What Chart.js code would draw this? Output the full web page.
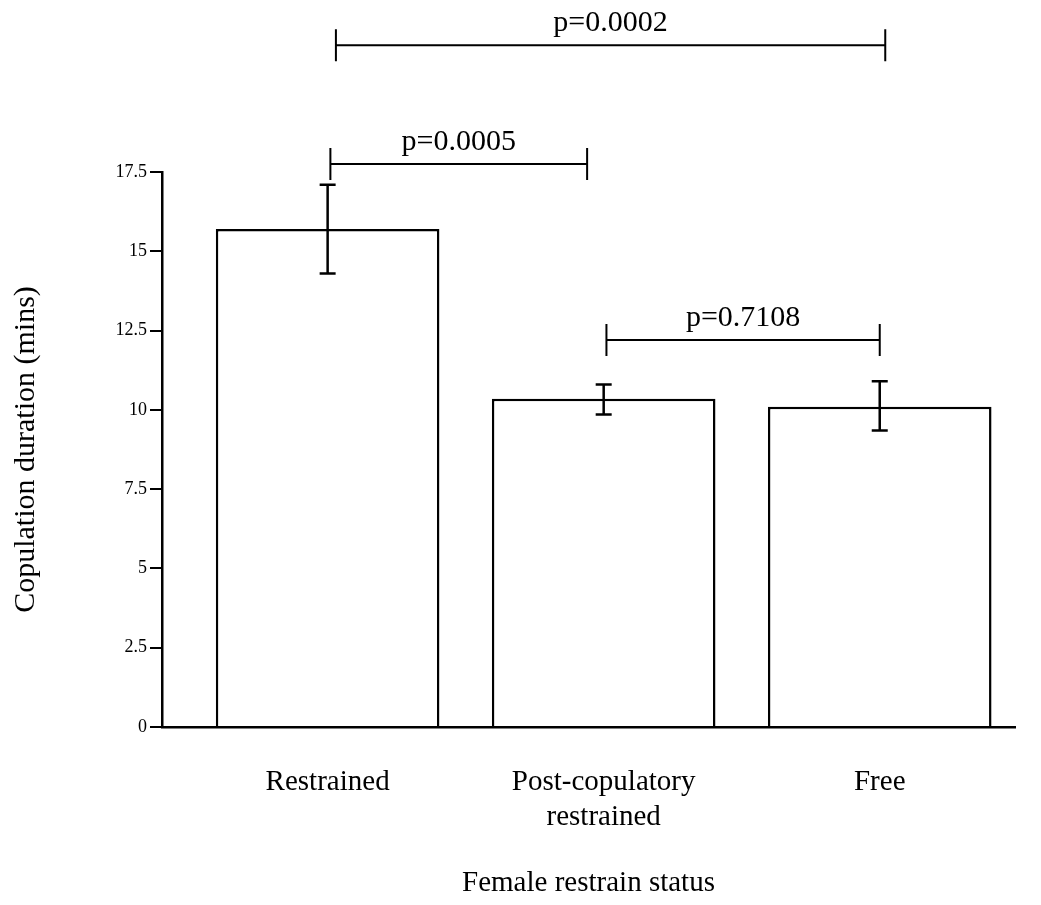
<!DOCTYPE html>
<html>
<head>
<meta charset="utf-8">
<title>Copulation duration</title>
<script src="https://cdn.jsdelivr.net/npm/chart.js@4.4.0/dist/chart.umd.min.js"></script>
<style>
  body { margin: 0; background: #fff; }
  #chart { display: block; }
</style>
</head>
<body>
<canvas id="chart" width="1041" height="905"></canvas>
<script>
// Female restrain status groups
var categories = [['Restrained'], ['Post-copulatory', 'restrained'], ['Free']];
// Mean copulation duration (mins) and error bar ends
var means = [15.7, 10.35, 10.1];
var errUpper = [17.1, 10.8, 10.9];
var errLower = [14.3, 9.85, 9.35];
var yTicks = [0, 2.5, 5, 7.5, 10, 12.5, 15, 17.5];

// Pairwise comparisons drawn as brackets above the bars
var bracketLabels = ['p=0.0002', 'p=0.0005', 'p=0.7108'];
var bracketFrom = [0.03, 0.01, 1.01];
var bracketTo = [2.02, 0.94, 2.0];
var bracketLevel = [21.5, 17.75, 12.2];

var serif = '"Liberation Serif", "Times New Roman", serif';

var errorBars = {
    id: 'errorBars',
    afterDatasetsDraw: function(chart) {
        var ctx = chart.ctx;
        var x = chart.scales.x, y = chart.scales.y;
        ctx.save();
        ctx.strokeStyle = '#000';
        ctx.lineWidth = 2.5;
        for (var i = 0; i < means.length; i++) {
            var px = x.getPixelForValue(i);
            var top = y.getPixelForValue(errUpper[i]);
            var bot = y.getPixelForValue(errLower[i]);
            ctx.beginPath();
            ctx.moveTo(px, top); ctx.lineTo(px, bot);
            ctx.moveTo(px - 8, top); ctx.lineTo(px + 8, top);
            ctx.moveTo(px - 8, bot); ctx.lineTo(px + 8, bot);
            ctx.stroke();
        }
        ctx.restore();
    }
};

var brackets = {
    id: 'brackets',
    afterDraw: function(chart) {
        var ctx = chart.ctx;
        var x = chart.scales.x, y = chart.scales.y;
        ctx.save();
        ctx.strokeStyle = '#000';
        ctx.fillStyle = '#000';
        ctx.lineWidth = 2;
        ctx.font = '30px ' + serif;
        ctx.textAlign = 'center';
        ctx.textBaseline = 'alphabetic';
        for (var i = 0; i < bracketLabels.length; i++) {
            var x1 = x.getPixelForValue(bracketFrom[i]);
            var x2 = x.getPixelForValue(bracketTo[i]);
            var py = y.getPixelForValue(bracketLevel[i]);
            ctx.beginPath();
            ctx.moveTo(x1, py); ctx.lineTo(x2, py);
            ctx.moveTo(x1, py - 16); ctx.lineTo(x1, py + 16);
            ctx.moveTo(x2, py - 16); ctx.lineTo(x2, py + 16);
            ctx.stroke();
            ctx.fillText(bracketLabels[i], (x1 + x2) / 2, py - 14);
        }
        ctx.restore();
    }
};

var chart = new Chart(document.getElementById('chart'), {
    type: 'bar',
    data: {
        datasets: [{
            data: means.map(function(m, i) { return { x: i, y: m }; }),
            backgroundColor: '#fff',
            borderColor: '#000',
            borderWidth: 2.5,
            borderSkipped: 'bottom',
            barPercentage: 0.81,
            categoryPercentage: 1
        }]
    },
    options: {
        responsive: false,
        animation: false,
        layout: { padding: { top: 172, left: 6, right: 26, bottom: 0 } },
        plugins: { legend: { display: false }, tooltip: { enabled: false } },
        scales: {
            x: {
                type: 'linear',
                offset: false,
                min: -0.6,
                max: 2.49,
                afterBuildTicks: function(scale) {
                    scale.ticks = categories.map(function(c, i) { return { value: i }; });
                },
                afterFit: function(scale) { scale.height = 905 - 727; },
                grid: { display: false, offset: false },
                border: { display: true, color: '#000', width: 2.5 },
                ticks: {
                    color: '#000',
                    padding: 30,
                    maxRotation: 0,
                    autoSkip: false,
                    font: { family: serif, size: 29 },
                    callback: function(v) { return categories[v]; }
                },
                title: {
                    display: true,
                    text: 'Female restrain status',
                    color: '#000',
                    font: { family: serif, size: 29 },
                    padding: { top: 4, bottom: 4 }
                }
            },
            y: {
                min: 0,
                max: 17.5,
                afterBuildTicks: function(scale) {
                    scale.ticks = yTicks.map(function(v) { return { value: v }; });
                },
                afterFit: function(scale) { scale.width = 162 - 6; },
                grid: {
                    display: true,
                    drawOnChartArea: false,
                    drawTicks: true,
                    tickLength: 12,
                    color: '#000',
                    lineWidth: 2
                },
                border: { display: true, color: '#000', width: 2.5 },
                ticks: {
                    color: '#000',
                    padding: 3,
                    font: { family: serif, size: 18 },
                    callback: function(v) { return String(v); }
                },
                title: {
                    display: true,
                    text: 'Copulation duration (mins)',
                    color: '#000',
                    font: { family: serif, size: 30 },
                    padding: { top: 2, bottom: 4 }
                }
            }
        }
    },
    plugins: [errorBars, brackets]
});
</script>
</body>
</html>
